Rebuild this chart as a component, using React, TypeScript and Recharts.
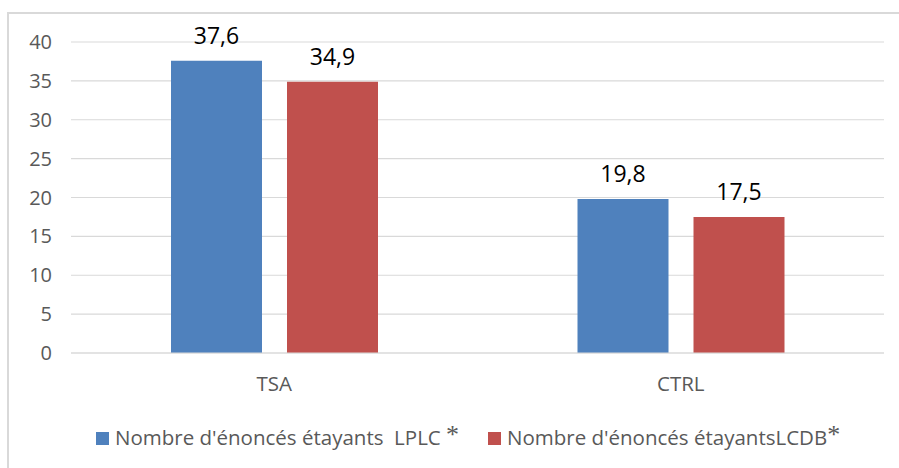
import { BarChart, Bar, XAxis, YAxis, CartesianGrid, LabelList } from "recharts";

const groups = ["TSA", "CTRL"];
const lplc = [37.6, 19.8];
const lcdb = [34.9, 17.5];
const yTicks = [0, 5, 10, 15, 20, 25, 30, 35, 40];
const seriesNames = ["Nombre d'énoncés étayants\u00a0\u00a0LPLC\u00a0", "Nombre d'énoncés étayantsLCDB"];

const BLUE = "#4F81BD";
const RED = "#C0504D";
const FONT = "'Open Sans', sans-serif";

const data = groups.map((g, i) => ({ group: g, lplc: lplc[i], lcdb: lcdb[i] }));

const fmt = (v: number) => v.toFixed(1).replace(".", ",");

function LegendItem({ color, label, left }: { color: string; label: string; left: number }) {
  return (
    <div style={{ position: "absolute", left, top: 422, display: "flex", alignItems: "center", whiteSpace: "nowrap" }}>
      <span style={{ width: 13, height: 13, background: color, display: "inline-block", marginRight: 6, marginTop: 2 }} />
      <span style={{ fontFamily: FONT, fontSize: 20.5, color: "#595959" }}>
        {label}
        <span style={{ fontFamily: "'Liberation Serif', serif", fontSize: 26, position: "relative", top: -2 }}>*</span>
      </span>
    </div>
  );
}

export default function App() {
  return (
    <div style={{ position: "absolute", left: 0, top: 0, width: 899, height: 468, overflow: "hidden", background: "#fff" }}>
      <div
        style={{
          position: "absolute",
          left: 7,
          top: 12,
          width: 920,
          height: 480,
          border: "2px solid #D9D9D9",
        }}
      />
      <div style={{ position: "absolute", left: 0, top: 0 }}>
        <BarChart
          width={899}
          height={468}
          data={data}
          margin={{ top: 42, right: 15, bottom: 85, left: 11 }}
          barSize={91}
          barGap={25}
        >
          <CartesianGrid vertical={false} stroke="#D9D9D9" strokeWidth={1.2} />
          <XAxis
            dataKey="group"
            axisLine={{ stroke: "#D9D9D9", strokeWidth: 1.2 }}
            tickLine={false}
            tickMargin={17}
            tick={{ fontSize: 20.5, fill: "#595959", fontFamily: FONT }}
          />
          <YAxis
            domain={[0, 40]}
            ticks={yTicks}
            width={60}
            axisLine={false}
            tickLine={false}
            tickMargin={13}
            tick={{ fontSize: 20, fill: "#595959", fontFamily: FONT }}
          />
          <Bar dataKey="lplc" fill={BLUE} isAnimationActive={false}>
            <LabelList dataKey="lplc" position="top" offset={17} formatter={(v: number) => fmt(v)} style={{ fontSize: 23, fill: "#000", fontFamily: FONT }} />
          </Bar>
          <Bar dataKey="lcdb" fill={RED} isAnimationActive={false}>
            <LabelList dataKey="lcdb" position="top" offset={17} formatter={(v: number) => fmt(v)} style={{ fontSize: 23, fill: "#000", fontFamily: FONT }} />
          </Bar>
        </BarChart>
      </div>
      <LegendItem color={BLUE} label={seriesNames[0]} left={96} />
      <LegendItem color={RED} label={seriesNames[1]} left={488} />
    </div>
  );
}
